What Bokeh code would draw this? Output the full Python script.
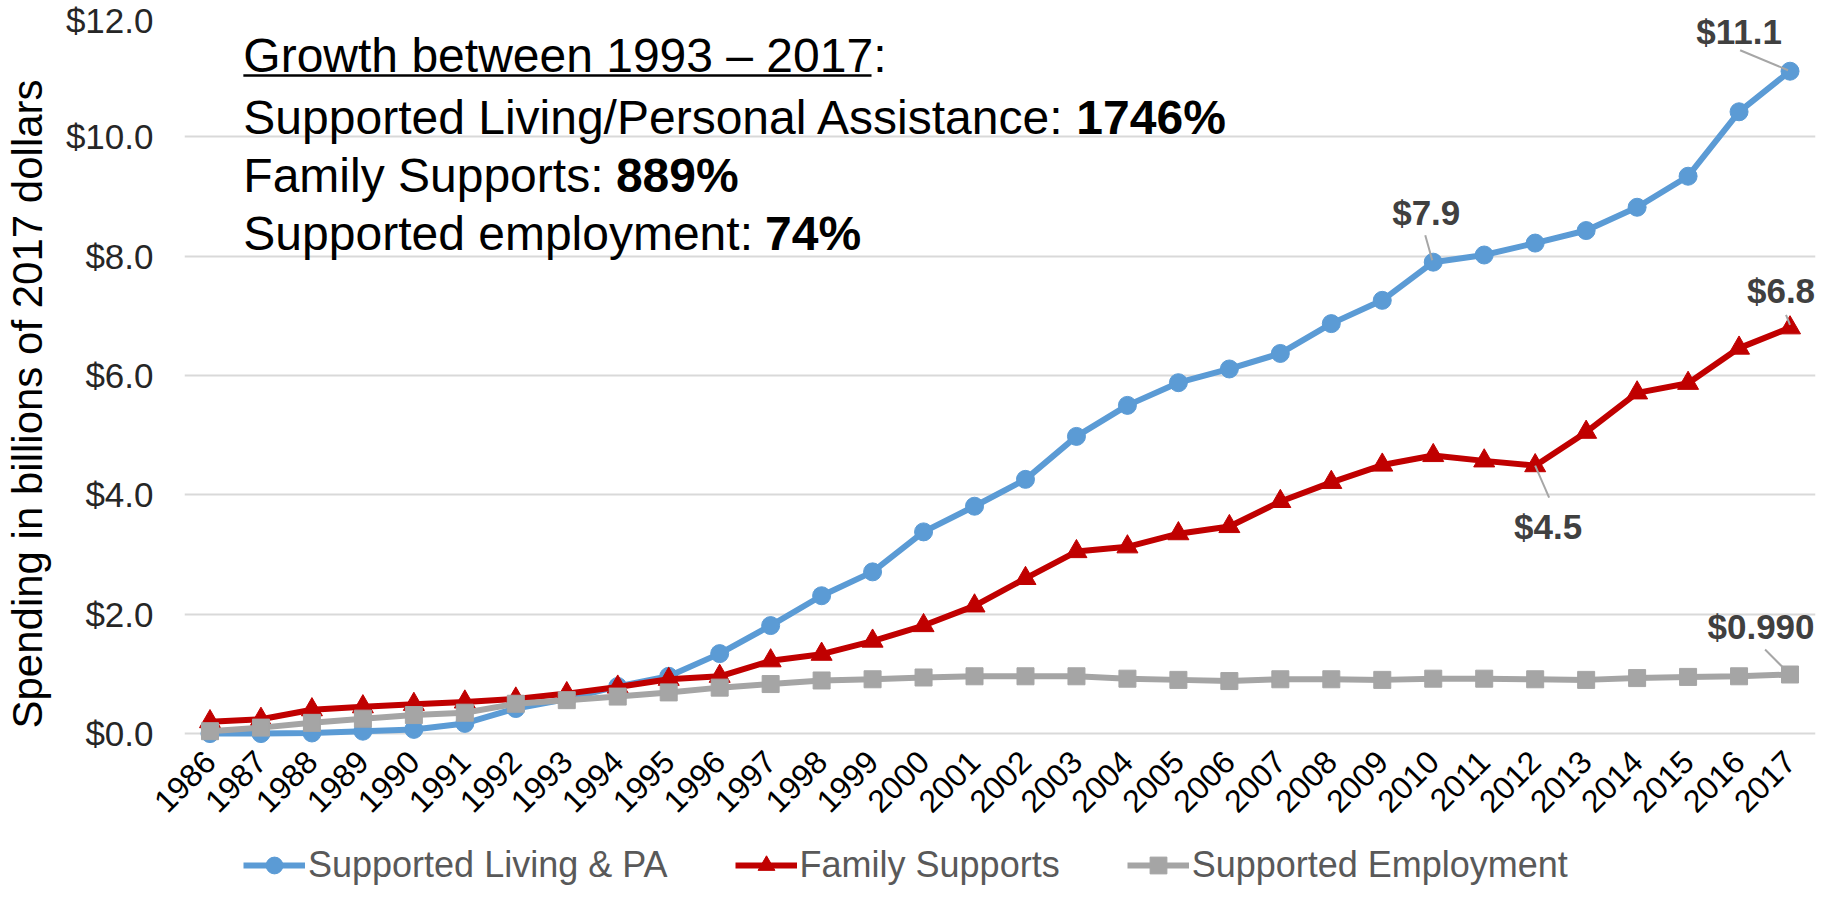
import math
from bokeh.plotting import figure
from bokeh.layouts import column
from bokeh.models import (Range1d, FixedTicker, PrintfTickFormatter, Legend, LegendItem,
                          Label, LabelSet, ColumnDataSource)
from bokeh.core.properties import value
from bokeh.embed import file_html
from bokeh.resources import INLINE

# ---------------- data ----------------
years = list(range(1986, 2018))
supported_living = [0.00, 0.00, 0.01, 0.04, 0.07, 0.17, 0.42, 0.58, 0.79, 0.96,
                    1.34, 1.81, 2.31, 2.71, 3.38, 3.81, 4.26, 4.98, 5.50, 5.88,
                    6.11, 6.37, 6.87, 7.26, 7.90, 8.02, 8.22, 8.43, 8.82, 9.34,
                    10.42, 11.10]
family_supports = [0.20, 0.24, 0.40, 0.45, 0.49, 0.53, 0.58, 0.67, 0.78, 0.91,
                   0.96, 1.22, 1.33, 1.55, 1.81, 2.14, 2.60, 3.05, 3.13, 3.35,
                   3.47, 3.89, 4.21, 4.50, 4.66, 4.57, 4.49, 5.05, 5.71, 5.87,
                   6.46, 6.80]
supported_employment = [0.04, 0.10, 0.18, 0.25, 0.31, 0.35, 0.50, 0.56, 0.62, 0.69,
                        0.77, 0.83, 0.89, 0.91, 0.94, 0.96, 0.96, 0.96, 0.92, 0.90,
                        0.88, 0.91, 0.91, 0.90, 0.92, 0.92, 0.91, 0.90, 0.93, 0.95,
                        0.96, 0.99]
series_names = ["Supported Living & PA", "Family Supports", "Supported Employment"]
y_ticks = [0, 2, 4, 6, 8, 10, 12]

# data callouts: (series index, year, text)
callout_series = [0, 0, 1, 1, 2]
callout_years = [2017, 2010, 2017, 2012, 2017]
callout_texts = ["$11.1", "$7.9", "$6.8", "$4.5", "$0.990"]

growth_title = "Growth between 1993 \u2013 2017"
growth_rows = [("Supported Living/Personal Assistance: ", "1746%"),
               ("Family Supports: ", "889%"),
               ("Supported employment: ", "74%")]

# ---------------- layout ----------------
W, H, HL = 1825, 840, 47
ML, MR, MT, MB = 180, 10, 17, 92
X0, X1 = 1985.5, 2017.5
Y0, Y1 = -0.25, 12.0
FW = W - ML - MR
FH = H - MT - MB
PX_X = FW / (X1 - X0)
PX_Y = FH / (Y1 - Y0)

FONT = "Liberation Sans"
colors = ["#5B9BD5", "#C00000", "#A5A5A5"]
markers = ["circle", "triangle", "square"]
msizes = [18, 21, 17]

p = figure(width=W, height=H, output_backend="svg", toolbar_location=None,
           x_range=Range1d(X0, X1), y_range=Range1d(Y0, Y1),
           min_border_left=ML, min_border_right=MR, min_border_top=MT,
           min_border_bottom=MB)
p.outline_line_color = None
p.background_fill_color = "white"
p.border_fill_color = "white"

# axes
p.yaxis.ticker = FixedTicker(ticks=y_ticks)
p.yaxis.formatter = PrintfTickFormatter(format="$%.1f")
p.yaxis.axis_line_color = None
p.yaxis.major_tick_line_color = None
p.yaxis.minor_tick_line_color = None
p.yaxis.major_tick_out = 0
p.yaxis.major_label_standoff = 31
p.yaxis.major_label_text_font = FONT
p.yaxis.major_label_text_font_size = "35px"
p.yaxis.major_label_text_color = "#262626"
# two en-spaces at the end nudge the centred label towards the bottom, as in the original
p.yaxis.axis_label = "Spending in billions of 2017 dollars\u2002\u2002"
p.yaxis.axis_label_text_font = FONT
p.yaxis.axis_label_text_font_size = "42px"
p.yaxis.axis_label_text_font_style = "normal"
p.yaxis.axis_label_text_color = "#000000"
p.yaxis.axis_label_standoff = 12

p.xaxis.ticker = FixedTicker(ticks=years)
p.xaxis.axis_line_color = None
p.xaxis.major_tick_line_color = None
p.xaxis.minor_tick_line_color = None
p.xaxis.major_tick_out = 0
p.xaxis.major_label_orientation = math.pi / 4
p.xaxis.major_label_standoff = 8
p.xaxis.major_label_text_font = FONT
p.xaxis.major_label_text_font_size = "32px"
p.xaxis.major_label_text_color = "#000000"

p.xgrid.visible = False
p.ygrid.grid_line_color = "#D9D9D9"
p.ygrid.grid_line_width = 2

# series
all_series = [supported_living, family_supports, supported_employment]
for i, vals in enumerate(all_series):
    src = ColumnDataSource(dict(x=years, y=vals))
    p.line("x", "y", source=src, line_color=colors[i], line_width=6)
    p.scatter("x", "y", source=src, marker=markers[i], size=msizes[i],
              fill_color=colors[i], line_color=colors[i])

# ---------------- callouts ----------------
# pixel offsets of label centre and leader-line ends relative to the point
lab_dx = [-51, -7, -9, 13, -29]
lab_dy = [40, 50, 37, -61, 48]
lead = [(-50, 21, -2, 1), (-8, 27, -1, 2), (-4, 13, 0, 3), (0, 0, 14, -32), (-25, 25, -7, 7)]

cx, cy = [], []
for s, yr in zip(callout_series, callout_years):
    cx.append(yr)
    cy.append(all_series[s][years.index(yr)])

lab_src = ColumnDataSource(dict(x=cx, y=cy, t=callout_texts, xo=lab_dx, yo=lab_dy))
p.add_layout(LabelSet(x="x", y="y", text="t", x_offset="xo", y_offset="yo", source=lab_src,
                      text_font=value(FONT), text_font_size=value("35px"),
                      text_font_style=value("bold"), text_color=value("#404040"),
                      text_align="center", text_baseline="middle"))

x0s, y0s, x1s, y1s = [], [], [], []
for (a, b, c, d), x, y in zip(lead, cx, cy):
    x0s.append(x + a / PX_X); y0s.append(y + b / PX_Y)
    x1s.append(x + c / PX_X); y1s.append(y + d / PX_Y)
p.segment(x0s, y0s, x1s, y1s, line_color="#A6A6A6", line_width=2)

# ---------------- growth text ----------------
ARIAL = {' ': 278, '%': 889, '/': 278, ':': 278, '\u2013': 556, '.': 278, '&': 667,
         'A': 667, 'F': 611, 'G': 778, 'L': 556, 'P': 667, 'S': 667,
         'a': 556, 'b': 556, 'c': 500, 'd': 556, 'e': 556, 'f': 278, 'g': 556, 'h': 556,
         'i': 222, 'l': 222, 'm': 833, 'n': 556, 'o': 556, 'p': 556, 'r': 333, 's': 500,
         't': 278, 'u': 556, 'v': 500, 'w': 722, 'y': 500}
for d in "0123456789":
    ARIAL[d] = 556


def text_w(s, size):
    return sum(ARIAL.get(ch, 556) for ch in s) / 1000.0 * size


def xd(px):  # page px -> data x
    return X0 + (px - 8 - ML) / PX_X


def yd(py):  # page px -> data y
    return Y1 - (py - 8 - MT) / PX_Y


GF = 48
left_px = 247
TEXT_SHIFT = 9           # compensate Bokeh's alphabetic-baseline placement
base_px = [72, 134, 192, 250]
p.add_layout(Label(x=xd(left_px), y=yd(base_px[0] - TEXT_SHIFT), text=growth_title + ":",
                   text_font=FONT, text_font_size=f"{GF}px", text_color="black",
                   text_baseline="alphabetic", text_align="left"))
ul_w = text_w(growth_title, GF)
p.segment([xd(left_px)], [yd(base_px[0] + 11)], [xd(left_px + ul_w)], [yd(base_px[0] + 11)],
          line_color="black", line_width=2.5)
for (reg, bold), bp in zip(growth_rows, base_px[1:]):
    p.add_layout(Label(x=xd(left_px), y=yd(bp - TEXT_SHIFT), text=reg, text_font=FONT,
                       text_font_size=f"{GF}px", text_color="black",
                       text_baseline="alphabetic", text_align="left"))
    p.add_layout(Label(x=xd(left_px + text_w(reg, GF)), y=yd(bp - TEXT_SHIFT), text=bold,
                       text_font=FONT, text_font_size=f"{GF}px", text_font_style="bold",
                       text_color="black", text_baseline="alphabetic", text_align="left"))

# ---------------- legend (separate strip figure) ----------------
# the series are repeated here outside the strip's visible range, only to feed the legend
pl = figure(width=W, height=HL, output_backend="svg", toolbar_location=None,
            x_axis_type=None, y_axis_type=None, x_range=Range1d(0, 1), y_range=Range1d(0, 1),
            min_border_left=0, min_border_right=0, min_border_top=0, min_border_bottom=0)
pl.outline_line_color = None
pl.xgrid.visible = False
pl.ygrid.visible = False
items = []
for i, vals in enumerate(all_series):
    lr = pl.line(years, vals, line_color=colors[i], line_width=6)
    sr = pl.scatter(years, vals, marker=markers[i], size=msizes[i],
                    fill_color=colors[i], line_color=colors[i])
    items.append(LegendItem(label=series_names[i], renderers=[lr, sr]))
legend = Legend(items=items, orientation="horizontal", location=(59, 1),
                label_text_font=FONT, label_text_font_size="36px",
                label_text_color="#595959", glyph_width=62, glyph_height=42,
                label_standoff=3, spacing=67, padding=0, margin=0,
                border_line_color=None, background_fill_alpha=0)
pl.add_layout(legend, "center")

open("out.html", "w").write(file_html(column(p, pl, spacing=0), INLINE))
